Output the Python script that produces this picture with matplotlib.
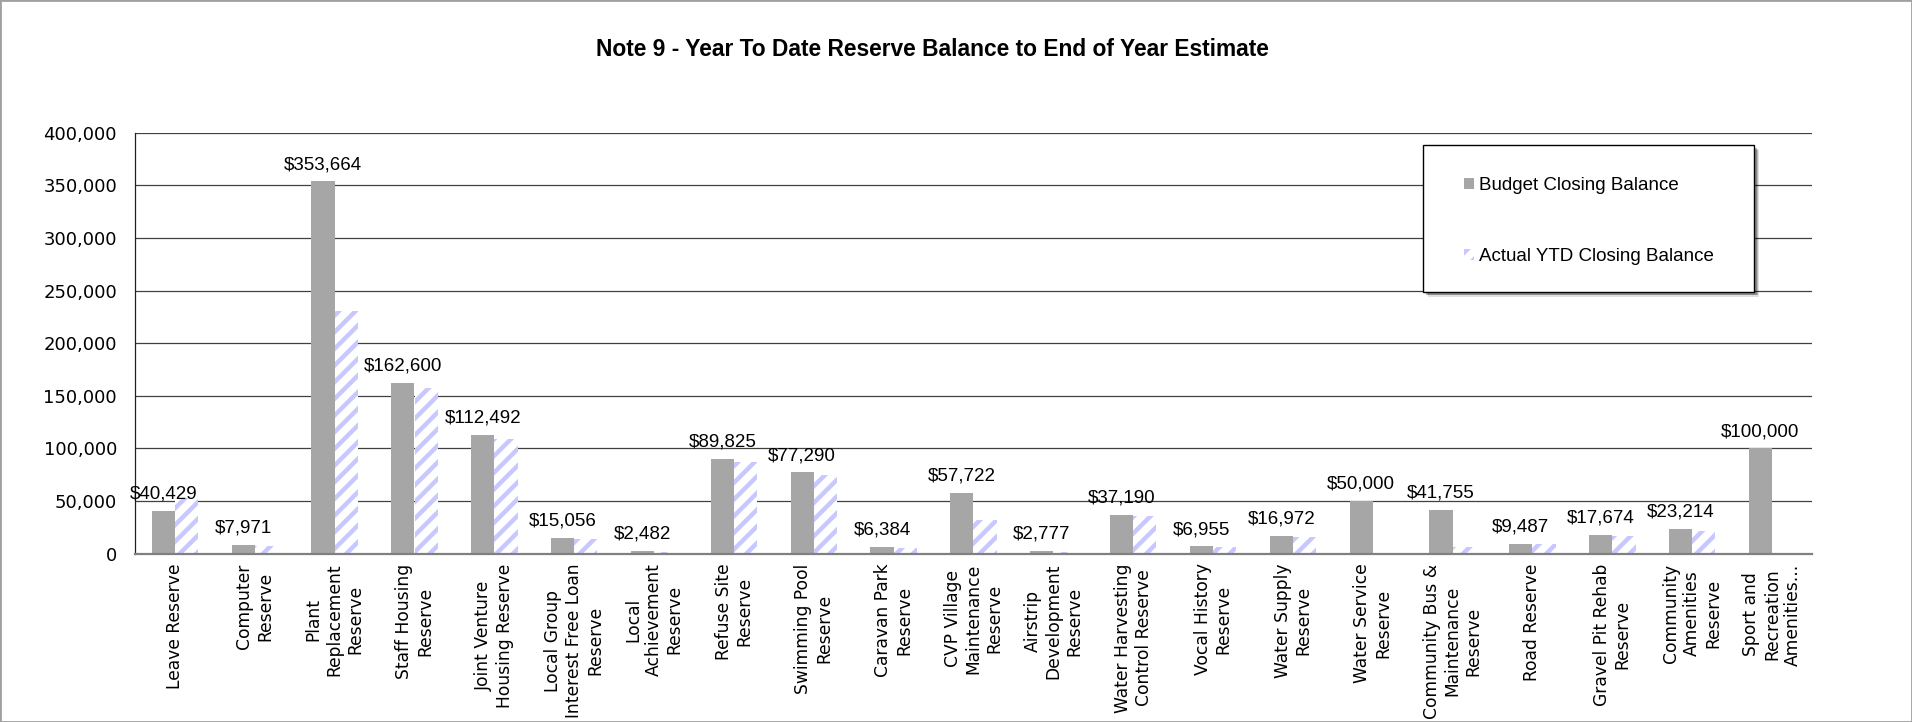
import numpy as np
import matplotlib
matplotlib.use("Agg")
import matplotlib.pyplot as plt
from matplotlib.patches import Patch, Rectangle
from matplotlib.ticker import FuncFormatter

# Donnees
categories = [
    "Leave Reserve", "Computer\nReserve", "Plant\nReplacement\nReserve",
    "Staff Housing\nReserve", "Joint Venture\nHousing Reserve",
    "Local Group\nInterest Free Loan\nReserve", "Local\nAchievement\nReserve",
    "Refuse Site\nReserve", "Swimming Pool\nReserve", "Caravan Park\nReserve",
    "CVP Village\nMaintenance\nReserve", "Airstrip\nDevelopment\nReserve",
    "Water Harvesting\nControl Reserve", "Vocal History\nReserve",
    "Water Supply\nReserve", "Water Service\nReserve",
    "Community Bus &\nMaintenance\nReserve", "Road Reserve",
    "Gravel Pit Rehab\nReserve", "Community\nAmenities\nReserve",
    "Sport and\nRecreation\nAmenities...",
]
budget = [40429, 7971, 353664, 162600, 112492, 15056, 2482, 89825, 77290, 6384,
          57722, 2777, 37190, 6955, 16972, 50000, 41755, 9487, 17674, 23214, 100000]
actual = [52800, 7600, 230700, 157900, 108900, 14200, 2000, 86800, 75000, 5700,
          32200, 1900, 36000, 6400, 16200, 0, 6000, 8900, 17200, 22000, 0]
yticks = [0, 50000, 100000, 150000, 200000, 250000, 300000, 350000, 400000]

plt.rcParams['hatch.linewidth'] = 3.2
gris = '#a6a6a6'
lavande = '#c8c8ff'

fig = plt.figure(figsize=(19.12, 7.22), dpi=100)
ax = fig.add_axes([135 / 1912, 1 - 553.7 / 722, (1812 - 135) / 1912, (553.7 - 132.7) / 722])

x = np.arange(len(categories))
w = 0.29
ax.bar(x - w / 2, budget, w, color=gris, linewidth=0, zorder=3)
ax.bar(x + w / 2, actual, w, color='white', edgecolor=lavande, hatch='//', linewidth=0, zorder=3)

# Etiquettes des valeurs
for xi, v in zip(x, budget):
    ax.annotate(f"${v:,.0f}", (xi - w / 2, v), xytext=(0, 6), textcoords='offset points',
                ha='center', va='bottom', fontsize=13.5, family='Liberation Sans', zorder=5)

ax.set_xlim(-0.5, len(categories) - 0.5)
ax.set_ylim(0, 400000)
ax.set_yticks(yticks)
ax.yaxis.set_major_formatter(FuncFormatter(lambda v, p: f"{v:,.0f}"))
ax.tick_params(axis='y', length=0, pad=13, labelsize=13)
ax.set_xticks(x)
ax.set_xticklabels(categories, rotation=90, ha='center', va='top',
                   multialignment='center', fontsize=12.3)
ax.tick_params(axis='x', length=0, pad=7)
ax.grid(axis='y', color='#404040', linewidth=0.9, zorder=0)
ax.set_axisbelow(True)
for s in ['top', 'right']:
    ax.spines[s].set_visible(False)
ax.spines['left'].set_color('#202020')
ax.spines['left'].set_linewidth(0.9)
ax.spines['bottom'].set_color('#808080')
ax.spines['bottom'].set_linewidth(1.6)
ax.spines['bottom'].set_zorder(4)

# Titre
fig.text(932 / 1912, 1 - 50 / 722, "Note 9 - Year To Date Reserve Balance to End of Year Estimate",
         ha='center', va='center', fontsize=16.4, fontweight='bold', family='Liberation Sans')

# Legende avec ombre
W, H = 1912, 722
lx0, lx1, ly0, ly1 = 1423, 1754, 145, 291.5
for k, a in [(5, 0.12), (4, 0.18), (3, 0.25)]:
    fig.add_artist(Rectangle(((lx0 + k) / W, 1 - (ly1 + k) / H),
                             (lx1 - lx0) / W, (ly1 - ly0) / H, transform=fig.transFigure,
                             facecolor='black', alpha=a, linewidth=0, zorder=8))
fig.add_artist(Rectangle((lx0 / W, 1 - ly1 / H), (lx1 - lx0) / W, (ly1 - ly0) / H,
                         transform=fig.transFigure, facecolor='white', edgecolor='black',
                         linewidth=1.0, zorder=9))
handles = [Patch(facecolor=gris, linewidth=0),
           Patch(facecolor='white', edgecolor=lavande, hatch='//', linewidth=0)]
leg = fig.legend(handles, ["Budget Closing Balance", "Actual YTD Closing Balance"],
                 loc='upper left', bbox_to_anchor=(1464 / W, 1 - 177 / H),
                 bbox_transform=fig.transFigure, frameon=False, borderpad=0,
                 borderaxespad=0, handlelength=0.53, handleheight=0.53,
                 handletextpad=0.25, labelspacing=2.9,
                 prop={'family': 'Liberation Sans', 'size': 13.5})
leg.set_zorder(10)

# Cadre de la figure
fig.add_artist(Rectangle((0, 0), 1, 1, transform=fig.transFigure, fill=False,
                         edgecolor='#a0a0a0', linewidth=2, zorder=20))

fig.savefig("out.png", dpi=100)
